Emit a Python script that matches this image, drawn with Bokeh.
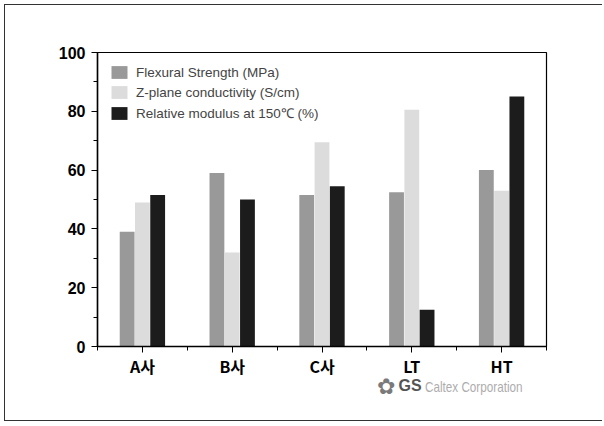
import numpy as np
from bokeh.plotting import figure
from bokeh.models import ColumnDataSource, FixedTicker, Legend, LegendItem, Div
from bokeh.layouts import column
from bokeh.transform import dodge
from bokeh.embed import file_html
from bokeh.resources import INLINE

categories = ["A사", "B사", "C사", "LT", "HT"]
flexural = [39, 59, 51.5, 52.5, 60]
z_plane = [49, 32, 69.5, 80.5, 53]
rel_mod = [51.5, 50, 54.5, 12.5, 85]
series_names = ["Flexural Strength (MPa)", "Z-plane conductivity (S/cm)", "Relative modulus at 150\u2103 (%)"]
y_ticks = [0, 20, 40, 60, 80, 100]
watermark_logo = "\u273F"
watermark_bold = "GS"
watermark_rest = "Caltex Corporation"

W, H = 598, 417
p = figure(width=W, height=H, output_backend="svg", toolbar_location=None,
           x_range=(0, len(categories)), y_range=(0, 100),
           min_border_left=92, min_border_right=57, min_border_top=47, min_border_bottom=76)
p.styles = {"margin-left": "4px", "margin-top": "4px",
            "border-left": "1.5px solid #333", "border-top": "1.5px solid #333",
            "border-bottom": "1.5px solid #333"}
p.grid.visible = False
p.outline_line_color = "black"
p.outline_line_width = 1.2

centers = np.arange(len(categories)) + 0.5
src = ColumnDataSource(dict(x=centers, flex=flexural, z=z_plane, rel=rel_mod))

colors = ["#999999", "#dcdcdc", "#1c1c1c"]
offs = [-0.17, 0.0, 0.17]
renderers = []
for key, c, o in zip(["flex", "z", "rel"], colors, offs):
    r = p.vbar(x=dodge("x", o), top=key, width=0.165, source=src,
               fill_color=c, line_color=None)
    renderers.append(r)

legend = Legend(items=[LegendItem(label=n, renderers=[r]) for n, r in zip(series_names, renderers)],
                location="top_left", border_line_color=None, background_fill_alpha=0,
                label_text_font="Liberation Sans", label_text_font_size="13.5px",
                glyph_width=20, glyph_height=16, spacing=4, label_standoff=7,
                margin=12, padding=6, label_height=16)
p.add_layout(legend)

# x axis
p.xaxis.ticker = FixedTicker(ticks=list(centers), minor_ticks=list(range(len(categories) + 1)))
p.xaxis.major_label_overrides = {float(c): lab for c, lab in zip(centers, categories)}
p.xaxis.major_label_text_font = "Noto Sans CJK KR"
p.xaxis.major_label_text_font_style = "bold"
p.xaxis.major_label_text_font_size = "16px"
p.xaxis.major_label_text_color = "black"
p.xaxis.major_label_standoff = 1
p.xaxis.major_tick_out = 6
p.xaxis.major_tick_in = 0
p.xaxis.minor_tick_out = 4
p.xaxis.minor_tick_in = 0
p.xaxis.axis_line_width = 1.5

# y axis
p.yaxis.ticker = FixedTicker(ticks=y_ticks, minor_ticks=list(range(0, 101, 10)))
p.yaxis.major_label_text_font = "Liberation Sans"
p.yaxis.major_label_text_font_style = "bold"
p.yaxis.major_label_text_font_size = "16px"
p.yaxis.major_label_text_color = "black"
p.yaxis.major_label_standoff = 6
p.yaxis.major_tick_out = 6
p.yaxis.major_tick_in = 0
p.yaxis.minor_tick_out = 4
p.yaxis.minor_tick_in = 0
p.yaxis.axis_line_width = 1.5

wm = Div(text=(f'<span style="color:#7a7a7a;font-family:DejaVu Sans;font-size:22px;vertical-align:middle">{watermark_logo}</span>'
               f'<span style="color:#555;font-family:Liberation Sans;font-weight:bold;font-size:16px;margin-left:3px;vertical-align:middle">{watermark_bold}</span>'
               f'<span style="display:inline-block;transform:scaleX(0.78);transform-origin:left center;color:#adadad;'
               f'font-family:Liberation Sans;font-size:15px;margin-left:3px;vertical-align:middle">{watermark_rest}</span>'),
         width=200, height=26,
         styles={"margin-top": "-50px", "margin-left": "377px", "white-space": "nowrap", "z-index": "5"})

layout = column(p, wm, spacing=0)
open("out.html", "w").write(file_html(layout, INLINE))
